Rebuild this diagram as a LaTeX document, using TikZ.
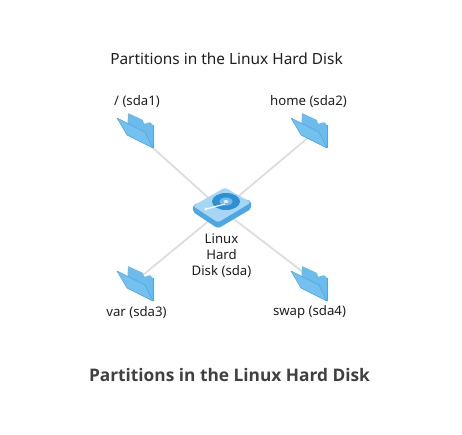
\documentclass[tikz,border=0pt]{standalone}
\usepackage{fontspec}
\setmainfont{Noto Sans}
\newfontfamily\titlefont{Open Sans}
\definecolor{fback}{HTML}{6DBBEA}
\definecolor{ffront}{HTML}{74C0EE}
\definecolor{fedge}{HTML}{4FA5E0}
\definecolor{lnk}{HTML}{DCDCDC}
\definecolor{dtop}{HTML}{A6D6F4}
\definecolor{dside}{HTML}{4FA6E0}
\definecolor{dring}{HTML}{2F8FD2}
\definecolor{ink}{HTML}{1F1F1F}
\tikzset{
  x=1pt,y=-1pt,
  lbl/.style={font=\fontsize{13.2}{16}\selectfont,text=ink,inner sep=0pt,align=center},
  conn/.style={draw=lnk,line width=1.7pt},
  folderpic/.pic={
    \fill[fback,rounded corners=.8pt] (11,-5) -- (26,2) -- (27,6) -- (33,4) -- (36,7) -- (36,30) -- (10,17) -- cycle;
    \fill[ffront] (0,0) -- (28,14) -- (36,30) -- (10,17) -- cycle;
    \draw[fedge,line width=.5pt,line join=round] (0,0) -- (28,14) -- (36,30) -- (10,17) -- cycle;
    \draw[fedge,line width=.5pt] (36,7) -- (36,30);
  }
}
\begin{document}
\begin{tikzpicture}
\useasboundingbox (0,0) rectangle (462,434);
\fill[white] (0,0) rectangle (462,434);
\coordinate (hub) at (222,210);
\coordinate (tl) at (153,148);
\coordinate (tr) at (310,136);
\coordinate (bl) at (143,275);
\coordinate (br) at (303,272);
\draw[conn] (hub) -- (tl);
\draw[conn] (hub) -- (tr);
\draw[conn] (hub) -- (bl);
\draw[conn] (hub) -- (br);
\pic at (117,118) {folderpic};
\pic at (291,118) {folderpic};
\pic at (117,271) {folderpic};
\pic at (291,271) {folderpic};
% disk
\fill[dside,rounded corners=2pt] (193,205) -- (193,212) -- (218,228.5) -- (251,209) -- (251,201) -- (225,194) -- cycle;
\fill[dtop,rounded corners=2.5pt] (193,206) -- (225,187.5) -- (251,202.5) -- (218,222.5) -- cycle;
\fill[dring] (226,201.5) ellipse [x radius=14,y radius=8.5];
\fill[dtop!60!dring] (226,201.5) ellipse [x radius=6.5,y radius=4];
\fill[dtop!40!white] (226,201.5) ellipse [x radius=2.5,y radius=1.5];
\draw[white!85!dtop,line width=1.2pt] (206,209) -- (225,204);
\fill[white!85!dtop] (206,209) circle (1.6);
\node[lbl,font=\fontsize{15.4}{18}\selectfont] (title) at (226.5,58.5) {Partitions in the Linux Hard Disk};
\node[lbl] (a) at (137,101.5) {/ (sda1)};
\node[lbl] (b) at (308.5,101.5) {home (sda2)};
\node[lbl] (c) at (136.5,312.5) {var (sda3)};
\node[lbl] (d) at (309.5,312.5) {swap (sda4)};
\node[lbl] (disk) at (221.5,255.5) {Linux\\Hard\\Disk (sda)};
\node[inner sep=0pt,font=\titlefont\bfseries\fontsize{17.3}{20}\selectfont,text=black!75] (cap) at (229.5,375) {Partitions in the Linux Hard Disk};
\end{tikzpicture}
\end{document}
